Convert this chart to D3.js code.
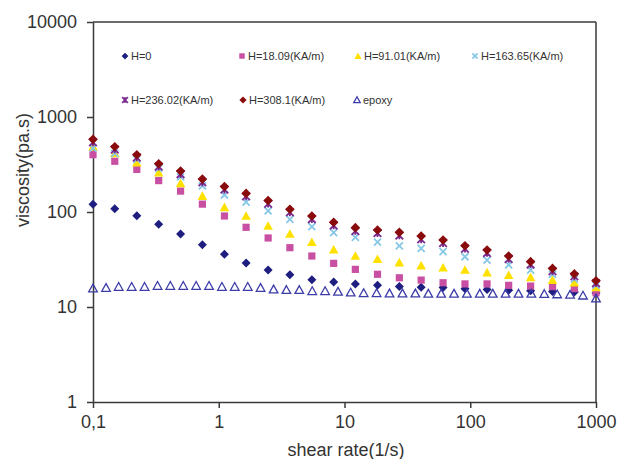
<!DOCTYPE html>
<html>
  <head>
    <script src="https://d3js.org/d3.v7.min.js"></script>
    <style>
body { margin: 0; background: #fff; }
svg text { font-family: "Liberation Sans", Arial, sans-serif; fill: #333; }
    </style>
  </head>
  <body>
    <script>
// shear rate (1/s) for the magnetic series, 24 points per sweep
var shearRate = [0.1, 0.149, 0.223, 0.333, 0.497, 0.741, 1.11, 1.65, 2.47, 3.68, 5.5, 8.2,
                 12.2, 18.3, 27.3, 40.7, 60.8, 90.8, 136, 202, 302, 451, 673, 1000];
// epoxy was measured on a denser sweep, 40 points
var shearRateEpoxy = [0.1, 0.127, 0.16, 0.203, 0.257, 0.326, 0.412, 0.522, 0.661, 0.837,
                      1.06, 1.34, 1.7, 2.15, 2.73, 3.45, 4.37, 5.54, 7.01, 8.88,
                      11.2, 14.2, 18, 22.8, 28.9, 36.6, 46.4, 58.7, 74.3, 94.1,
                      119, 151, 191, 242, 306, 388, 491, 622, 788, 1000];

var h0 = [121, 108, 91.4, 74.2, 58.7, 45.3, 35.9, 29.1, 24.5, 21.9, 19.4, 18.3,
          17.5, 16.9, 16.4, 16.1, 16.0, 15.6, 15.3, 15.0, 14.8, 14.6, 14.4, 14.0];
var h18 = [401, 342, 281, 214, 166, 121, 90.8, 69, 53.3, 42.1, 34.4, 28.8,
           24.9, 22.1, 20.3, 19.2, 18.0, 17.5, 17.5, 16.9, 16.6, 16.4, 15.6, 14.1];
var h91 = [487, 415, 330, 259, 200, 147, 112, 90.8, 71.2, 58.7, 48, 40.1,
           34.4, 31.8, 29.3, 27.2, 25.9, 24.5, 23.0, 21.6, 20.5, 19.2, 18.0, 16.1];
var h163 = [469, 415, 359, 288, 235, 188, 151, 127, 103, 83.8, 70, 60.5,
            54.2, 48.3, 43.9, 41.5, 38.2, 33.8, 31.2, 27.7, 24.5, 22.1, 19.6, 17.0];
var h236 = [540, 455, 375, 300, 250, 205, 172, 146, 122, 99, 84, 72,
            63, 60, 56.5, 51.5, 47, 41, 37, 32, 28, 23.8, 21, 17.8];
var h308 = [582, 487, 401, 322, 270, 222, 185, 157, 132, 107, 90.8, 77.9,
            68.4, 64.7, 61.1, 55.9, 50.7, 44.2, 39.8, 34.4, 30.0, 25.5, 22.3, 18.9];
var epoxy = [15.7, 15.9, 16.3, 16.3, 16.3, 16.7, 16.7, 16.7, 16.7, 16.7,
             16.3, 16.3, 16.3, 15.9, 15.3, 15.1, 15.1, 14.7, 14.7, 14.5,
             14.2, 14.0, 14.0, 13.9, 13.9, 13.9, 13.8, 13.8, 13.8, 13.8,
             13.8, 13.8, 13.8, 13.8, 13.8, 13.7, 13.6, 13.5, 13.2, 12.3];

var seriesNames = ["H=0", "H=18.09(KA/m)", "H=91.01(KA/m)", "H=163.65(KA/m)",
                   "H=236.02(KA/m)", "H=308.1(KA/m)", "epoxy"];

var xTicks = [0.1, 1, 10, 100, 1000];
var xTickLabels = ["0,1", "1", "10", "100", "1000"];
var yTicks = [1, 10, 100, 1000, 10000];

var series = [
	{name: seriesNames[0], x: shearRate, y: h0, shape: "diamond", r: 4.5, color: "#1e1e80"},
	{name: seriesNames[1], x: shearRate, y: h18, shape: "square", r: 3.6, color: "#c94fa3"},
	{name: seriesNames[2], x: shearRate, y: h91, shape: "triangle", r: 4.8, color: "#ffe100"},
	{name: seriesNames[3], x: shearRate, y: h163, shape: "cross", r: 3.5, color: "#86c8e6"},
	{name: seriesNames[4], x: shearRate, y: h236, shape: "star", r: 3.8, color: "#7a2a8e"},
	{name: seriesNames[5], x: shearRate, y: h308, shape: "diamond", r: 4.8, color: "#8a0b0b"},
	{name: seriesNames[6], x: shearRateEpoxy, y: epoxy, shape: "opentri", r: 4.3, color: "#3c3ca8"}
];

function markerPath(shape, r) {
	if (shape == "diamond") return "M0," + (-r) + "L" + r + ",0L0," + r + "L" + (-r) + ",0Z";
	if (shape == "square") return "M" + (-r) + "," + (-r) + "h" + 2 * r + "v" + 2 * r + "h" + (-2 * r) + "Z";
	if (shape == "triangle" || shape == "opentri")
		return "M0," + (-r) + "L" + r + "," + r * 0.8 + "L" + (-r) + "," + r * 0.8 + "Z";
	if (shape == "cross") return "M" + (-r) + "," + (-r) + "L" + r + "," + r + "M" + r + "," + (-r) + "L" + (-r) + "," + r;
	if (shape == "star") return "M" + (-r) + "," + (-r) + "L" + r + "," + r + "M" + r + "," + (-r) + "L" + (-r) + "," + r + "M0," + (-r) + "L0," + r;
}

function styleMarker(sel, s) {
	var stroked = s.shape == "cross" || s.shape == "star" || s.shape == "opentri";
	sel.attr("fill", stroked ? "none" : s.color)
		.attr("stroke", stroked ? s.color : "none")
		.attr("stroke-width", s.shape == "opentri" ? 1.3 : 1.8);
}

var x = d3.scaleLog().domain([0.1, 1000]).range([93, 596]);
var y = d3.scaleLog().domain([1, 10000]).range([402, 22]);

var svg = d3.select("body").append("svg").attr("width", 619).attr("height", 459);

// axes
var xAxis = svg.append("g").attr("transform", "translate(0,402)")
	.call(d3.axisBottom(x).tickValues(xTicks).tickFormat(function (d, i) { return xTickLabels[i]; })
		.tickSize(6).tickSizeOuter(0).tickPadding(7));
var yAxis = svg.append("g").attr("transform", "translate(93,0)")
	.call(d3.axisLeft(y).tickValues(yTicks).tickFormat(d3.format("d"))
		.tickSize(6).tickSizeOuter(0).tickPadding(10));
[xAxis, yAxis].forEach(function (g) {
	g.selectAll("path, line").attr("stroke", "#3a3a3a").attr("stroke-width", 1.5);
	g.selectAll("text").style("font-size", "18px").attr("fill", "#333");
});

// top and right frame
svg.append("line").attr("x1", 93).attr("x2", 596).attr("y1", 22).attr("y2", 22)
	.attr("stroke", "#3a3a3a").attr("stroke-width", 1.5);
svg.append("line").attr("x1", 596).attr("x2", 596).attr("y1", 22).attr("y2", 402)
	.attr("stroke", "#3a3a3a").attr("stroke-width", 1.5);

// titles
svg.append("text").attr("x", 346).attr("y", 456).attr("text-anchor", "middle")
	.style("font-size", "18px").text("shear rate(1/s)");
svg.append("text").attr("transform", "translate(29,170) rotate(-90)").attr("text-anchor", "middle")
	.style("font-size", "18px").text("viscosity(pa.s)");

// points
series.forEach(function (s) {
	var pts = s.y.map(function (v, i) { return {x: s.x[i], y: v}; });
	svg.append("g").selectAll("path").data(pts).enter().append("path")
		.attr("d", markerPath(s.shape, s.r))
		.attr("transform", function (d) { return "translate(" + x(d.x) + "," + y(d.y) + ")"; })
		.call(styleMarker, s);
});

// legend, 4 items then 3
var legendPos = [[125, 56], [242, 56], [358, 56], [475, 56], [125, 100], [243, 100], [357, 100]];
var legend = svg.append("g");
series.forEach(function (s, i) {
	var p = legendPos[i];
	legend.append("path").attr("d", markerPath(s.shape, s.r * 0.75))
		.attr("transform", "translate(" + p[0] + "," + p[1] + ")")
		.call(styleMarker, s);
	legend.append("text").attr("x", p[0] + 6).attr("y", p[1] + 4)
		.style("font-size", "11px").text(s.name);
});
    </script>
  </body>
</html>
